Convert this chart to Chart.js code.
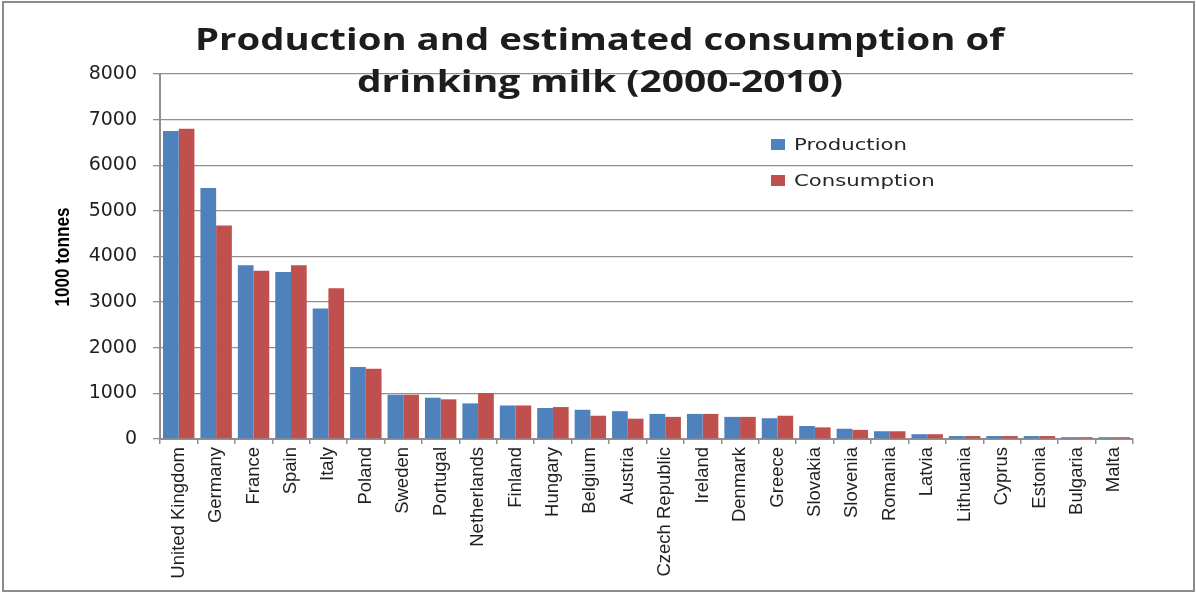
<!DOCTYPE html>
<html>
<head>
<meta charset="utf-8">
<script src="https://cdn.jsdelivr.net/npm/chart.js@4.4.1/dist/chart.umd.min.js"></script>
<style>
  html, body { margin: 0; padding: 0; background: #ffffff; }
  #wrap { width: 1196px; height: 592px; position: relative; }
  canvas { display: block; }
</style>
</head>
<body>
<div id="wrap"><canvas id="c" width="1196" height="592"></canvas></div>
<script>
const titleLines = ['Production and estimated consumption of', 'drinking milk (2000-2010)'];
const yAxisTitle = '1000 tonnes';
const categories = ['United Kingdom','Germany','France','Spain','Italy','Poland','Sweden','Portugal','Netherlands','Finland','Hungary','Belgium','Austria','Czech Republic','Ireland','Denmark','Greece','Slovakia','Slovenia','Romania','Latvia','Lithuania','Cyprus','Estonia','Bulgaria','Malta'];
const seriesNames = ['Production', 'Consumption'];
const production = [6750,5500,3810,3660,2860,1580,970,905,780,735,680,640,610,550,550,485,455,285,225,170,105,65,65,65,40,40];
const consumption = [6800,4680,3690,3810,3305,1540,970,870,1005,735,700,510,445,485,550,485,510,255,200,170,105,65,65,65,40,40];
const yTicks = [0,1000,2000,3000,4000,5000,6000,7000,8000];

const BLUE = '#4F81BD';
const RED = '#C0504D';
const GRID = '#8f8f8f';

function drawScaledText(ctx, text, x, baseline, targetWidth, sx) {
  const w = ctx.measureText(text).width;
  const s = sx !== undefined ? sx : targetWidth / w;
  ctx.save();
  ctx.translate(x, baseline);
  ctx.scale(s, 1);
  ctx.fillText(text, 0, 0);
  ctx.restore();
  return s;
}

const decorPlugin = {
  id: 'decor',
  afterDraw(chart) {
    const ctx = chart.ctx;
    ctx.save();
    // outer frame
    ctx.strokeStyle = '#8c8c8c';
    ctx.lineWidth = 2;
    ctx.strokeRect(3, 2, 1191, 589);
    // title
    ctx.fillStyle = '#1e1c1d';
    ctx.font = 'bold 30px "Open Sans", "DejaVu Sans", sans-serif';
    ctx.textBaseline = 'alphabetic';
    ctx.textAlign = 'left';
    drawScaledText(ctx, titleLines[0], 195, 50, 809);
    drawScaledText(ctx, titleLines[1], 357, 92, 486);
    // y axis title (narrow bold, rotated)
    ctx.fillStyle = '#000000';
    ctx.font = 'bold 20px "Liberation Sans", Arial, sans-serif';
    ctx.save();
    ctx.translate(69, 257);
    ctx.rotate(-Math.PI / 2);
    const tw = ctx.measureText(yAxisTitle).width;
    ctx.scale(99 / tw, 1);
    ctx.textAlign = 'center';
    ctx.fillText(yAxisTitle, 0, 0);
    ctx.restore();
    // legend
    const ds = chart.data.datasets;
    ctx.font = '15px "DejaVu Sans", sans-serif';
    ctx.textAlign = 'left';
    ctx.fillStyle = ds[0].backgroundColor;
    ctx.fillRect(771, 139, 14, 11);
    ctx.fillStyle = ds[1].backgroundColor;
    ctx.fillRect(771, 175, 14, 11);
    ctx.fillStyle = '#262626';
    const s = drawScaledText(ctx, ds[0].label, 794, 150, 113);
    drawScaledText(ctx, ds[1].label, 794, 186, 0, s);
    ctx.restore();
  }
};

new Chart(document.getElementById('c'), {
  type: 'bar',
  data: {
    labels: categories,
    datasets: [
      { label: seriesNames[0], data: production, backgroundColor: BLUE, borderWidth: 0 },
      { label: seriesNames[1], data: consumption, backgroundColor: RED, borderWidth: 0 }
    ]
  },
  options: {
    responsive: false,
    animation: false,
    devicePixelRatio: 1,
    layout: { padding: { left: 0, top: 74, right: 63, bottom: 0 } },
    plugins: {
      legend: { display: false },
      title: { display: false },
      tooltip: { enabled: false }
    },
    datasets: {
      bar: { categoryPercentage: 0.84, barPercentage: 1.0 }
    },
    scales: {
      x: {
        afterFit(scale) { scale.height = 153; },
        grid: {
          offset: true,
          drawOnChartArea: false,
          drawTicks: true,
          tickLength: 5,
          color: GRID,
          lineWidth: 1.5
        },
        border: { display: true, color: GRID, width: 2 },
        ticks: {
          autoSkip: false,
          minRotation: 90,
          maxRotation: 90,
          padding: 3,
          color: '#1f1f1f',
          font: { family: '"Liberation Sans", Arial, sans-serif', size: 18.5 }
        }
      },
      y: {
        min: 0,
        max: 8000,
        afterFit(scale) { scale.width = 160; },
        afterBuildTicks(scale) { scale.ticks = yTicks.map(v => ({ value: v })); },
        grid: {
          color: GRID,
          lineWidth: 1.3,
          drawTicks: true,
          tickLength: 7
        },
        border: { display: true, color: GRID, width: 2 },
        ticks: {
          padding: 16,
          color: '#1f1f1f',
          font: { family: '"DejaVu Sans", sans-serif', size: 19 },
          callback: (v) => String(v)
        }
      }
    }
  },
  plugins: [decorPlugin]
});
</script>
</body>
</html>
